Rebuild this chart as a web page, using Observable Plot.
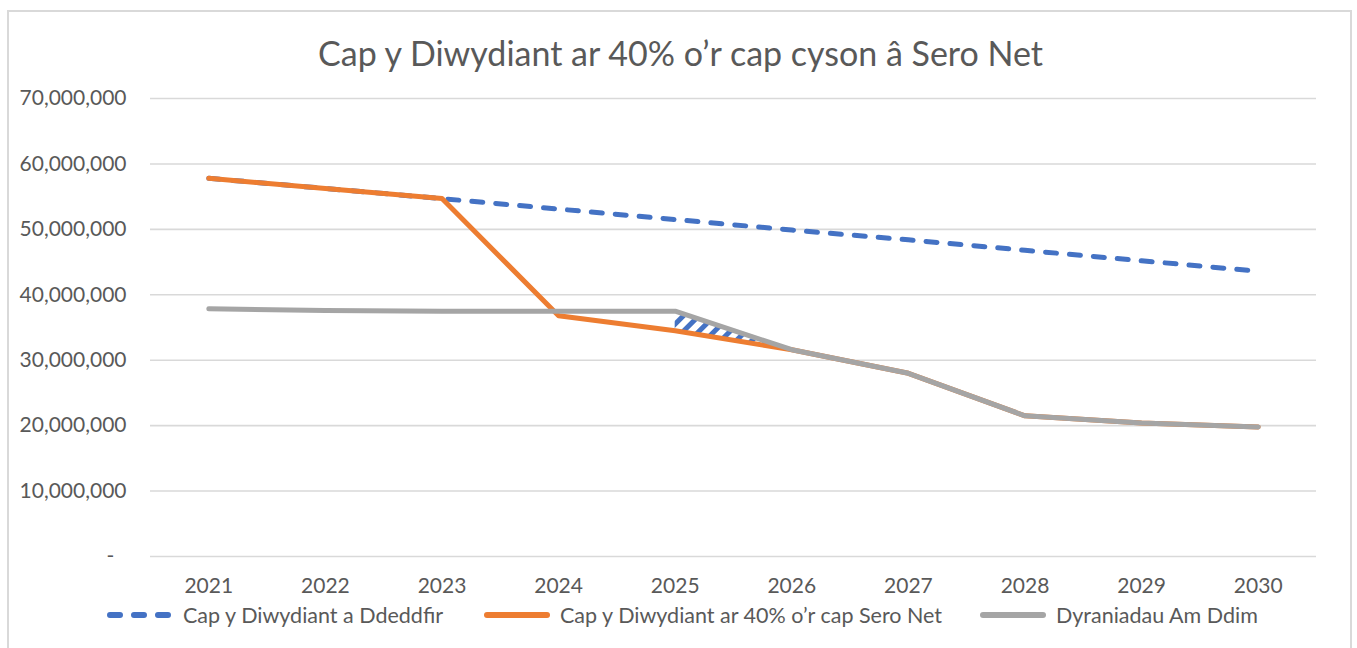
<!DOCTYPE html>
<html>
<head>
<meta charset="utf-8">
<script src="https://cdn.jsdelivr.net/npm/d3@7"></script>
<script src="https://cdn.jsdelivr.net/npm/@observablehq/plot@0.6"></script>
<style>
  html, body { margin: 0; padding: 0; background: #fff; width: 1357px; height: 648px; overflow: hidden; font-family: Lato, "Open Sans", sans-serif; }
  #frame { position: absolute; left: 7px; top: 10px; width: 1345px; height: 700px; border: 2px solid #d9d9d9; border-bottom: none; box-sizing: border-box; }
  #title { position: absolute; left: 0; width: 1361px; top: 32px; text-align: center; font-size: 34px; color: #595959; white-space: nowrap; }
  #chart { position: absolute; left: 0; top: 0; }
  #legend { position: absolute; top: 602px; left: 0; width: 1357px; height: 28px; font-size: 21.5px; color: #595959; }
  .item { position: absolute; top: 0; display: flex; align-items: center; white-space: nowrap; }
  .item svg { margin-right: 10px; }
</style>
</head>
<body>
<div id="frame"></div>
<div id="title">Cap y Diwydiant ar 40% o’r cap cyson â Sero Net</div>
<div id="chart"></div>
<div id="legend"></div>
<script>
const years = [2021, 2022, 2023, 2024, 2025, 2026, 2027, 2028, 2029, 2030];
const enacted = [57800000, 56250000, 54700000, 53100000, 51500000, 49900000, 48400000, 46800000, 45200000, 43600000];
const netZero40 = [57800000, 56250000, 54700000, 36800000, 34500000, 31600000, 28000000, 21500000, 20400000, 19800000];
const freeAllocation = [37850000, 37600000, 37500000, 37500000, 37500000, 31600000, 28000000, 21500000, 20400000, 19800000];
const seriesNames = ["Cap y Diwydiant a Ddeddfir", "Cap y Diwydiant ar 40% o’r cap Sero Net", "Dyraniadau Am Ddim"];
const seriesColors = ["#4472C4", "#ED7D31", "#A5A5A5"];
const yTicks = [0, 10000000, 20000000, 30000000, 40000000, 50000000, 60000000, 70000000];
const hatchYears = [2025, 2026];

const rows = (vals) => years.map((y, i) => ({year: y, value: vals[i]}));
const hatchRows = years.map((y, i) => ({year: y, lo: netZero40[i], hi: freeAllocation[i]}))
  .filter(d => hatchYears.includes(d.year));

const fmt = d3.format(",");
const chart = Plot.plot({
  width: 1357,
  height: 600,
  marginLeft: 150,
  marginRight: 41,
  marginTop: 98,
  marginBottom: 44,
  style: {fontFamily: "Lato, 'Open Sans', sans-serif", fontSize: "21px", color: "#595959", background: "transparent"},
  x: {domain: [2020.5, 2030.5], label: null},
  y: {domain: [0, 70000000], label: null},
  marks: [
    Plot.ruleY(yTicks, {stroke: "#d9d9d9", strokeWidth: 1.6}),
    Plot.areaY(hatchRows, {x: "year", y1: "lo", y2: "hi", fill: "url(#hatch)"}),
    Plot.line(rows(enacted), {x: "year", y: "value", stroke: seriesColors[0], strokeWidth: 5, strokeDasharray: "11,13", strokeLinecap: "round", strokeLinejoin: "round"}),
    Plot.line(rows(netZero40), {x: "year", y: "value", stroke: seriesColors[1], strokeWidth: 5, strokeLinecap: "round", strokeLinejoin: "round"}),
    Plot.line(rows(freeAllocation), {x: "year", y: "value", stroke: seriesColors[2], strokeWidth: 5, strokeLinecap: "round", strokeLinejoin: "round"}),
    Plot.axisX(years, {tickSize: 0, tickPadding: 22, label: null, tickFormat: d => String(d), fill: "#595959", fontSize: 21}),
    Plot.axisY(yTicks, {tickSize: 0, tickPadding: 24, label: null, tickFormat: d => d === 0 ? "-\u2007" : fmt(d), fill: "#595959", fontSize: 21})
  ]
});

const defs = d3.select(chart).insert("defs", ":first-child");
const pat = defs.append("pattern").attr("id", "hatch").attr("patternUnits", "userSpaceOnUse")
  .attr("width", 11).attr("height", 11).attr("patternTransform", "rotate(45)");
pat.append("rect").attr("width", 5).attr("height", 11).attr("fill", seriesColors[0]);

document.getElementById("chart").appendChild(chart);

const legend = d3.select("#legend");
const legendX = [107, 484, 980];
seriesNames.forEach((name, i) => {
  const item = legend.append("div").attr("class", "item").style("left", legendX[i] + "px");
  const sw = item.append("svg").attr("width", 66).attr("height", 26);
  sw.append("line").attr("x1", 3).attr("x2", 63).attr("y1", 13).attr("y2", 13)
    .attr("stroke", seriesColors[i]).attr("stroke-width", 6).attr("stroke-linecap", "round")
    .attr("stroke-dasharray", i === 0 ? "10,14" : null);
  item.append("span").text(name);
});
</script>
</body>
</html>
